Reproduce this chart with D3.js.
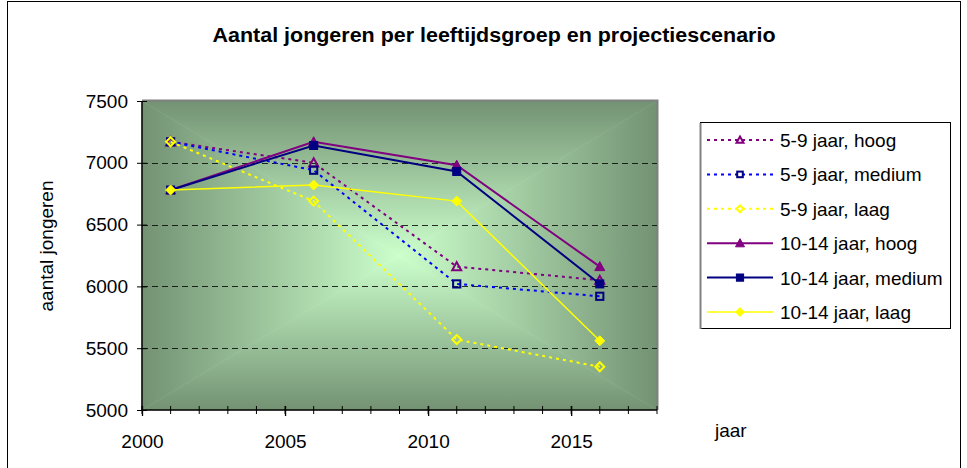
<!DOCTYPE html>
<html><head><meta charset="utf-8">
<script src="https://cdn.jsdelivr.net/npm/d3@7"></script>
<style>
html,body{margin:0;padding:0;background:#fff;}
svg text{font-family:"Liberation Sans",Arial,sans-serif;fill:#000;}
</style></head>
<body>
<svg id="c" width="967" height="468"></svg>
<script>
// ---- data ----
const years = [2001, 2006, 2011, 2016];
const hoog59 = [7170, 7000, 6160, 6050];
const medium59 = [7170, 6940, 6020, 5920];
const laag59 = [7170, 6690, 5570, 5350];
const hoog1014 = [6780, 7170, 6980, 6160];
const medium1014 = [6780, 7140, 6930, 6020];
const laag1014 = [6780, 6820, 6690, 5560];
const seriesNames = ["5-9 jaar, hoog","5-9 jaar, medium","5-9 jaar, laag","10-14 jaar, hoog","10-14 jaar, medium","10-14 jaar, laag"];
const yTicks = [5000, 5500, 6000, 6500, 7000, 7500];
const xMajorTicks = [2000, 2005, 2010, 2015];
const xMinorTicks = d3.range(2000, 2019);
const title = "Aantal jongeren per leeftijdsgroep en projectiescenario";
const yTitle = "aantal jongeren";
const xTitle = "jaar";

const series = [
  {name: seriesNames[0], values: hoog59, color:"#800080", mcolor:"#800080", dash:true, shape:"tri", filled:false},
  {name: seriesNames[1], values: medium59, color:"#0000FF", mcolor:"#000080", dash:true, shape:"sq", filled:false},
  {name: seriesNames[2], values: laag59, color:"#FFFF00", mcolor:"#FFFF00", dash:true, shape:"dia", filled:false},
  {name: seriesNames[3], values: hoog1014, color:"#800080", mcolor:"#800080", dash:false, shape:"tri", filled:true, w:2},
  {name: seriesNames[4], values: medium1014, color:"#000080", mcolor:"#000080", dash:false, shape:"sq", filled:true, w:2},
  {name: seriesNames[5], values: laag1014, color:"#FFFF00", mcolor:"#FFFF00", dash:false, shape:"dia", filled:true, w:1.5}
];

const svg = d3.select("#c");
const L = 142, R = 657, T = 101, B = 410;
const x = d3.scaleLinear().domain([2000, 2018]).range([L, R]);
const y = d3.scaleLinear().domain([5000, 7500]).range([B, T]);

// outer frame
svg.append("rect").attr("x",7.5).attr("y",1.5).attr("width",953).attr("height",470)
  .attr("fill","#fff").attr("stroke","#000").attr("stroke-width",1);

// title
svg.append("text").attr("x",494).attr("y",42).attr("text-anchor","middle")
  .attr("font-size",19.5).attr("font-weight","bold")
  .attr("textLength",563).attr("lengthAdjust","spacingAndGlyphs").text(title);

// plot background: rectangular "from centre" gradient built from 4 triangles
const defs = svg.append("defs");
const cx = (L+R)/2, cy = (T+B)/2;
const cIn = "#ccffcc", cOut = "#739273";
const tris = [
  {id:"gT", pts:[[L,T],[R,T],[cx,cy]], to:[cx,T]},
  {id:"gB", pts:[[L,B],[R,B],[cx,cy]], to:[cx,B]},
  {id:"gL", pts:[[L,T],[L,B],[cx,cy]], to:[L,cy]},
  {id:"gR", pts:[[R,T],[R,B],[cx,cy]], to:[R,cy]}
];
tris.forEach(t=>{
  const g = defs.append("linearGradient").attr("id",t.id).attr("gradientUnits","userSpaceOnUse")
    .attr("x1",cx).attr("y1",cy).attr("x2",t.to[0]).attr("y2",t.to[1]);
  g.append("stop").attr("offset",0).attr("stop-color",cIn);
  g.append("stop").attr("offset",1).attr("stop-color",cOut);
  svg.append("polygon").attr("points",t.pts.map(p=>p.join(",")).join(" "))
    .attr("fill",`url(#${t.id})`).attr("stroke",`url(#${t.id})`).attr("stroke-width",0.6);
});
// plot border shadow (grey) top/right
svg.append("path").attr("d",`M${L},${T-0.5}H${R+0.5}V${B}`).attr("fill","none")
  .attr("stroke","#808080").attr("stroke-width",2);

// gridlines
svg.append("g").selectAll("line").data(yTicks.filter(v=>v>5000 && v<7500)).join("line")
  .attr("x1",L).attr("x2",R).attr("y1",d=>Math.round(y(d))+0.5).attr("y2",d=>Math.round(y(d))+0.5)
  .attr("stroke","#000").attr("stroke-width",1).attr("stroke-dasharray","6,4").attr("opacity",0.8);

// y axis
const yAx = svg.append("g").attr("transform",`translate(${L},0)`)
  .call(d3.axisLeft(y).tickValues(yTicks).tickSize(5).tickPadding(9).tickFormat(d3.format("d")));
yAx.select(".domain").attr("stroke","#000").attr("stroke-width",1.5).attr("d",`M0,${T}V${B}`);
yAx.selectAll(".tick line").attr("x1",5).attr("x2",-5).attr("stroke","#000");
yAx.selectAll(".tick text").attr("font-size",19).attr("font-family","Liberation Sans, Arial").attr("fill","#000");

// x axis minor ticks
svg.append("g").selectAll("line").data(xMinorTicks).join("line")
  .attr("x1",d=>x(d)).attr("x2",d=>x(d)).attr("y1",B-4).attr("y2",B+4)
  .attr("stroke","#000").attr("stroke-width",1);
const xAx = svg.append("g").attr("transform",`translate(0,${B})`)
  .call(d3.axisBottom(x).tickValues(xMajorTicks).tickSize(6).tickPadding(18.5).tickFormat(d3.format("d")));
xAx.select(".domain").attr("stroke","#000").attr("stroke-width",1.5).attr("d",`M${L},0H${R}`);
xAx.selectAll(".tick line").attr("y1",-4).attr("y2",6).attr("stroke","#000").attr("stroke-width",1.3);
xAx.selectAll(".tick text").attr("font-size",19).attr("font-family","Liberation Sans, Arial").attr("fill","#000");

// axis titles
svg.append("text").attr("transform","translate(53,246) rotate(-90)").attr("text-anchor","middle")
  .attr("font-size",19).text(yTitle);
svg.append("text").attr("x",715).attr("y",437).attr("font-size",19).text(xTitle);

// markers
function marker(g, shape, px, py, s, color, filled){
  let el;
  if(shape==="tri"){
    el = g.append("path").attr("d",`M${px},${py-s}L${px+s},${py+s*0.8}L${px-s},${py+s*0.8}Z`);
  } else if(shape==="sq"){
    el = g.append("rect").attr("x",px-s*0.8).attr("y",py-s*0.8).attr("width",s*1.6).attr("height",s*1.6);
  } else {
    el = g.append("path").attr("d",`M${px},${py-s}L${px+s},${py}L${px},${py+s}L${px-s},${py}Z`);
  }
  el.attr("fill",filled?color:"none").attr("stroke",color).attr("stroke-width",filled?1:2);
}

const line = d3.line().x((d,i)=>x(years[i])).y(d=>y(d));
const plot = svg.append("g");
series.forEach(s=>{
  plot.append("path").datum(s.values).attr("d",line).attr("fill","none")
    .attr("stroke",s.color).attr("stroke-width",s.dash?2:s.w)
    .attr("stroke-dasharray",s.dash?"3,4":null);
  const mg = plot.append("g");
  s.values.forEach((v,i)=>marker(mg,s.shape,x(years[i]),y(v),s.filled?5:4.5,s.mcolor,s.filled));
});

// legend
const lg = svg.append("g");
lg.append("rect").attr("x",700.5).attr("y",122.5).attr("width",250).attr("height",206)
  .attr("fill","#fff").attr("stroke","#000").attr("stroke-width",1);
lg.append("line").attr("x1",700.5).attr("x2",700.5).attr("y1",123).attr("y2",329)
  .attr("stroke","#808080").attr("stroke-width",2);
series.forEach((s,i)=>{
  const ry = 140 + i*34.4;
  lg.append("line").attr("x1",707).attr("x2",773).attr("y1",ry).attr("y2",ry)
    .attr("stroke",s.color).attr("stroke-width",s.dash?2:s.w)
    .attr("stroke-dasharray",s.dash?"3,4":null);
  marker(lg,s.shape,740,ry,s.filled?4.5:3.5,s.mcolor,s.filled);
  lg.append("text").attr("x",780).attr("y",ry+7).attr("font-size",19).text(s.name);
});
</script>
</body></html>
